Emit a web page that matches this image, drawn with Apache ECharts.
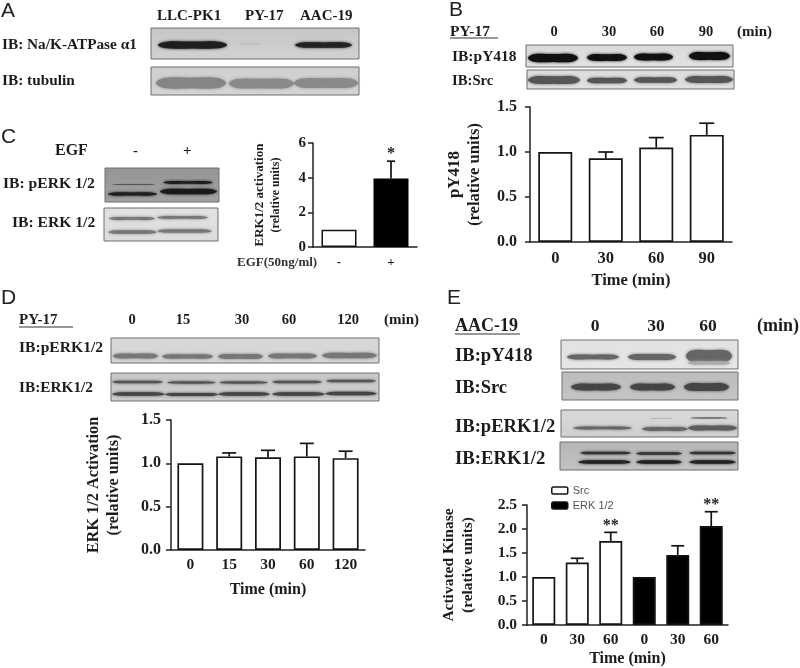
<!DOCTYPE html>
<html><head><meta charset="utf-8">
<style>html,body{margin:0;padding:0;background:#fff}#c{width:800px;height:668px;filter:blur(0.5px)}</style>
<script src="https://cdn.jsdelivr.net/npm/echarts@6/dist/echarts.min.js"></script>
</head><body><div id="c"></div>
<script>
// Panel B
const catsB = ['0','30','60','90'];
const valsB = [1.0,0.93,1.05,1.19];
const topsB = [1.0,1.0,1.16,1.32];
// Panel C
const catsC = ['-','+'];
const valsC = [1.0,3.95];
const topsC = [1.0,4.95];
const sigC = ['','*'];
// Panel D
const catsD = ['0','15','30','60','120'];
const valsD = [1.0,1.08,1.07,1.08,1.06];
const topsD = [1.0,1.12,1.15,1.23,1.14];
// Panel E
const catsE = ['0','30','60','0','30','60'];
const valsSrc = [1.0,1.3,1.75,null,null,null];
const valsErk = [null,null,null,1.0,1.46,2.06];
const topsE = [1.0,1.39,1.93,1.0,1.65,2.36];
const sigE = ['','','**','','','**'];

const SERIF = '"Liberation Serif","Times New Roman",serif';
const SANS = '"Liberation Sans",Arial,sans-serif';
const INK = '#1c1c1c';
const g = [];
function T(text,x,y,size,o){o=o||{};
  g.push({type:'text',x:x,y:y,rotation:o.rot||0,z:20,style:{text:text,align:o.align||'left',verticalAlign:'middle',
    font:(o.weight||'bold')+' '+size+'px '+(o.fam||SERIF),fill:o.fill||INK}});
}
function Line(x1,y,x2){g.push({type:'line',z:20,shape:{x1:x1,y1:y,x2:x2,y2:y},style:{stroke:'#333',lineWidth:1}});}
function blot(x1,y1,x2,y2,top,bot,bands){
  g.push({type:'rect',z:5,shape:{x:x1,y:y1,width:x2-x1,height:y2-y1},
    style:{fill:{type:'linear',x:0,y:0,x2:0,y2:1,colorStops:[{offset:0,color:top},{offset:1,color:bot}]},stroke:'#6e6e6e',lineWidth:1}});
  bands.forEach(function(b){
    const xa=b[0],xb=b[1],y=b[2],h=b[3]/2,c=b[4],w=xb-xa;
    g.push({type:'polygon',z:6,shape:{smooth:0.35,points:[[xa,y],[xa+w*0.12,y-h],[xa+w*0.5,y-h*1.05],[xa+w*0.88,y-h],[xb,y],[xa+w*0.88,y+h],[xa+w*0.5,y+h*1.05],[xa+w*0.12,y+h]]},
      style:{fill:c,shadowColor:c,shadowBlur:b[5]==null?3:b[5]}});
  });
}
// Panel letters
[['A',1,11],['B',449,10],['C',1,137],['D',1,298],['E',447,298]].forEach(function(p){T(p[0],p[1],p[2],21,{weight:'normal',fam:SANS,fill:'#222'});});

// Panel A
T('LLC-PK1',157,16,15);T('PY-17',245,16,15);T('AAC-19',300,16,15);
T('IB: Na/K-ATPase \u03b11',2,45,15.3);T('IB: tubulin',2,81,15.3);
blot(151,28,359,59,'#c6c6c6','#d2d2d2',[[158,227,45,6.5,'#1e1e1e'],[295,352,45,5,'#222'],[240,262,44,1,'#bcbcbc']]);
blot(151,67,359,95,'#cfcfcf','#d4d4d4',[[156,226,83,10,'#858585'],[229,294,83.5,9,'#8a8a8a'],[294,358,83,9,'#8a8a8a']]);

// Panel C
T('EGF',55,151,16);T('-',133,151,15);T('+',183,151,15);
T('IB: pERK 1/2',3,184,15.6);T('IB: ERK 1/2',12,223,15.6);
blot(105,168,219,202,'#959595','#a2a2a2',[[108,157,194,3,'#1e1e1e'],[160,217,191.5,5,'#1a1a1a'],[163,213,182.5,2.5,'#1e1e1e'],[112,155,184.5,.8,'#555',1]]);
blot(104,208,218,241,'#e2e2e2','#dcdcdc',[[109,155,218.5,2.6,'#777'],[157,208,217.5,2.6,'#777'],[108,157,232,3.2,'#777'],[157,212,231,3.2,'#777']]);
T('EGF(50ng/ml)',237,263,13,{fill:'#333'});

// Panel B
T('PY-17',450,32,15.5);Line(450,38,498);
T('0',554,32,14.5,{align:'center'});T('30',609,32,14.5,{align:'center'});T('60',657,32,14.5,{align:'center'});T('90',706,32,14.5,{align:'center'});
T('(min)',737,32,15);
T('IB:pY418',452,57,15.5);T('IB:Src',452,81,14.7);
blot(526,45,733,67,'#dadada','#e2e2e2',[[528,578,58,7.5,'#111'],[587,627,57.5,6,'#111'],[634,673,57,6,'#111'],[689,730,56,7,'#111']]);
blot(527,70,734,89,'#dcdcdc','#e0e0e0',[[528,580,80,7,'#555'],[587,627,80.5,5,'#555'],[634,677,80,5,'#555'],[685,733,79.5,6,'#555']]);

// Panel D
T('PY-17',19,320,15);Line(19,327,73);
[['0',132],['15',183],['30',242],['60',289],['120',348]].forEach(function(p){T(p[0],p[1],320,14.5,{align:'center'});});
T('(min)',384,320,15);
T('IB:pERK1/2',19,348,15.6);T('IB:ERK1/2',19,388,15.3);
blot(111,338,379,363,'#d8d8d8','#d4d4d4',[[113,158,356,4.5,'#777'],[162,213,356.5,4,'#777'],[218,263,356.5,4.5,'#777'],[268,317,356,4.5,'#777'],[322,377,355.5,5,'#777']]);
blot(111,373,379,401,'#c8c8c8','#cdcdcd',[[112,163,382,2.4,'#555'],[167,216,382.5,2.2,'#555'],[219,268,382.5,2.2,'#555'],[272,322,382,2.4,'#555'],[326,376,381,2.4,'#555'],[112,165,394,3.2,'#444'],[165,218,394.5,2.8,'#444'],[218,270,394,3.2,'#444'],[272,325,394,3.2,'#444'],[325,377,393.5,3.2,'#444']]);

// Panel E
T('AAC-19',455,326,18);Line(455,334,520);
T('0',595,326,17.5,{align:'center'});T('30',656,326,17.5,{align:'center'});T('60',708,326,17.5,{align:'center'});T('(min)',757,326,18);
T('IB:pY418',455,356,18.6);T('IB:Src',455,388,18.5);T('IB:pERK1/2',455,427,18.6);T('IB:ERK1/2',455,459,18.7);
blot(561,340,738,369,'#e2e2e2','#e6e6e6',[[567,619,357,4.5,'#666'],[628,676,357,5.5,'#666'],[686,732,356,11,'#666'],[688,730,363,3,'#aaa']]);
blot(562,372,738,400,'#bdbdbd','#c4c4c4',[[571,621,387,6,'#454545'],[630,675,387,6,'#454545'],[684,729,387,7,'#454545']]);
blot(561,410,738,437,'#dadada','#cfcfcf',[[573,632,428,2.6,'#666'],[642,688,429,3.4,'#666'],[688,737,428,4.5,'#5c5c5c'],[690,728,418,1.2,'#777',1],[650,672,418.5,.6,'#aaa',1]]);
blot(560,442,738,470,'#b6b6b6','#c2c2c2',[[580,631,453,2.4,'#333'],[636,682,453.5,2.4,'#333'],[689,736,453,2.4,'#333'],[578,631,462,3.2,'#222'],[636,682,462,3.2,'#222'],[689,736,462,3.2,'#222']]);

// Charts
const grids=[
 {left:530,width:202,top:107,height:135},  // B
 {left:313,width:104,top:143,height:104},  // C
 {left:171,width:194,top:420,height:130},  // D
 {left:527,width:201,top:505,height:122}   // E
];
function xAx(i,data,size,margin){return {type:'category',gridIndex:i,data:data,
  axisLine:{lineStyle:{color:'#222',width:1.5}},axisTick:{show:false},
  axisLabel:{interval:0,margin:margin,color:INK,fontFamily:SERIF,fontWeight:'bold',fontSize:size}};}
function yAx(i,max,step,size,margin,nm,gap,sub1,sub2){return {type:'value',gridIndex:i,min:0,max:max,interval:step,
  splitLine:{show:false},
  axisLine:{show:true,lineStyle:{color:'#222',width:1.5}},axisTick:{show:true,length:5,lineStyle:{color:'#222',width:1.5}},
  axisLabel:{margin:margin,color:INK,fontFamily:SERIF,fontWeight:'bold',fontSize:size,formatter:function(v){return step<1?v.toFixed(1):String(v);}},
  name:'{a|'+nm[0]+'}\n{b|'+nm[1]+'}',nameLocation:'middle',nameGap:gap,nameRotate:90,
  nameTextStyle:{rich:{a:{fontFamily:SERIF,fontWeight:'bold',fontSize:sub1,color:INK,lineHeight:sub1+3,align:'center'},b:{fontFamily:SERIF,fontWeight:'bold',fontSize:sub2,color:INK,lineHeight:sub2+3,align:'center'}}}};}
function bars(i,vals,w,fill,nm){return {type:'bar',name:nm,xAxisIndex:i,yAxisIndex:i,data:vals,barWidth:w,barGap:'-100%',
  itemStyle:{color:fill,borderColor:'#141414',borderWidth:1.7},emphasis:{disabled:true},z:3};}
function errs(i,vals,tops,cap,sig){
  return {type:'custom',xAxisIndex:i,yAxisIndex:i,z:2,silent:true,clip:false,
    data:vals.map(function(v,k){return [k,v,tops[k]];}),encode:{x:0,y:[1,2]},
    renderItem:function(p,api){
      const k=api.value(0),a=api.coord([k,api.value(1)]),b=api.coord([k,api.value(2)]);
      const ch=[];
      const st={stroke:'#141414',lineWidth:1.7};
      if(api.value(2)>api.value(1)){
        ch.push({type:'line',shape:{x1:a[0],y1:a[1],x2:b[0],y2:b[1]},style:st});
        ch.push({type:'line',shape:{x1:b[0]-cap,y1:b[1],x2:b[0]+cap,y2:b[1]},style:st});
      }
      if(sig&&sig[p.dataIndex]) ch.push({type:'text',style:{text:sig[p.dataIndex],x:b[0],y:b[1]-7,align:'center',verticalAlign:'middle',font:'bold 16px '+SERIF,fill:INK}});
      return {type:'group',children:ch};
    }};
}
const tn=function(s){return {fontFamily:SERIF,fontWeight:'bold',fontSize:s,color:INK};};
const opt={animation:false,backgroundColor:'#fff',textStyle:{fontFamily:SERIF},
 grid:grids,
 xAxis:[
  Object.assign(xAx(0,catsB,16.5,8),{name:'Time (min)',nameLocation:'middle',nameGap:30,nameTextStyle:tn(16.5)}),
  xAx(1,catsC,13,9),
  Object.assign(xAx(2,catsD,15.5,7),{name:'Time (min)',nameLocation:'middle',nameGap:32,nameTextStyle:tn(16)}),
  Object.assign(xAx(3,catsE,15.5,7),{name:'Time (min)',nameLocation:'middle',nameGap:26,nameTextStyle:tn(16)})
 ],
 yAxis:[
  yAx(0,1.5,0.5,16,13,['pY418','(relative units)'],46,17,16.5),
  yAx(1,6,2,15,7,['ERK1/2 activation','(relative units)'],30,13,12),
  yAx(2,1.5,0.5,16,10,['ERK 1/2 Activation','(relative units)'],48,16.3,16.2),
  yAx(3,2.5,0.5,15.5,10,['Activated Kinase','(relative units)'],50,15.5,15.4)
 ],
 legend:{show:true,orient:'vertical',left:546,top:480,itemWidth:16,itemHeight:7,itemGap:4,data:['Src','ERK 1/2'],selectedMode:false,
  textStyle:{fontFamily:SANS,fontSize:11,color:'#555',fontWeight:'normal'},itemStyle:{borderWidth:1.5}},
 series:[
  bars(0,valsB,34,'#fff'),errs(0,valsB,topsB,7.5),
  {type:'bar',xAxisIndex:1,yAxisIndex:1,barWidth:35,z:3,emphasis:{disabled:true},
   data:[{value:valsC[0],itemStyle:{color:'#fff',borderColor:'#141414',borderWidth:1.5}},{value:valsC[1],itemStyle:{color:'#000',borderColor:'#000',borderWidth:1.5}}]},
  errs(1,valsC,topsC,4,sigC),
  bars(2,valsD,26,'#fff'),errs(2,valsD,topsD,7),
  bars(3,valsSrc,23,'#fff','Src'),bars(3,valsErk,23,'#000','ERK 1/2'),errs(3,topsE.map(function(t,k){return valsSrc[k]!=null?valsSrc[k]:valsErk[k];}),topsE,6.5,sigE)
 ],
 graphic:{elements:g}
};
const chart=echarts.init(document.getElementById('c'),null,{renderer:'canvas',width:800,height:668});
chart.setOption(opt);
</script></body></html>
